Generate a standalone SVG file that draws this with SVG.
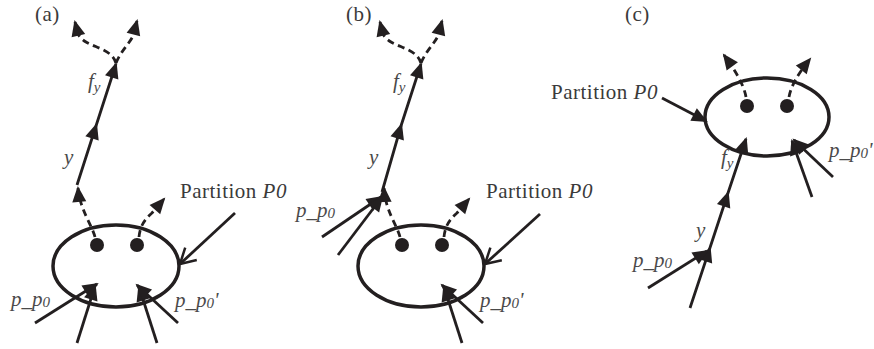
<svg xmlns="http://www.w3.org/2000/svg" width="874" height="349" viewBox="0 0 874 349">
<style>
text{font-family:"Liberation Serif","Times New Roman",serif;fill:#3a3a3a}
.cap{font-size:21px;letter-spacing:0.5px}
.lab{font-size:21px;font-style:italic;fill:#4a4a4a}
.sub{font-size:15px}
.ell{fill:none;stroke:#231f20;stroke-width:3.5}
.dot{fill:#231f20}
.ln{fill:none;stroke:#231f20;stroke-width:2.8}
.ds{fill:none;stroke:#231f20;stroke-width:2.8;stroke-dasharray:7 4.5}
.arr{marker-end:url(#ah)}
.mid{marker-mid:url(#ah);marker-end:url(#ah)}
.open{marker-end:url(#oh)}
</style>
<defs>
<marker id="ah" viewBox="-16 -8 19 16" refX="0" refY="0" markerWidth="19" markerHeight="16" markerUnits="userSpaceOnUse" orient="auto">
<path d="M2,0 L-14,-7 L-14,7 Z" fill="#231f20"/>
</marker>
<marker id="oh" viewBox="-17 -11 20 22" refX="0" refY="0" markerWidth="20" markerHeight="22" markerUnits="userSpaceOnUse" orient="auto">
<path d="M-15,-8.5 L0,0 L-15,8.5" fill="none" stroke="#231f20" stroke-width="2.5"/>
</marker>
</defs>

<!-- Panel (a) -->
<text class="cap" x="35" y="21">(a)</text>
<g id="a-partition">
<ellipse class="ell" cx="116" cy="266" rx="63" ry="41"/>
<circle class="dot" cx="97" cy="245" r="7"/>
<circle class="dot" cx="137" cy="245" r="7"/>
</g>
<g id="a-connectors">
<path class="ln mid" d="M77,185 L96.3,125 L116,64"/>
<path class="ds arr" d="M116,63 C112,50 96,48 86,42 S77,30 75,22"/>
<path class="ds arr" d="M116,63 C121,51 129,44 133,36 L137,21"/>
<path class="ds arr" d="M95,237 C92,225 80,210 78,188"/>
<path class="ds arr" d="M139,237 C140,225 146,218 152,213 L164,199"/>
<path class="ln open" d="M235,213 L180,264"/>
<path class="ln arr" d="M35,323 L97,284"/>
<path class="ln arr" d="M77,343 L95,286"/>
<path class="ln arr" d="M157,343 L139,287"/>
<path class="ln arr" d="M178,323 L137,285"/>
</g>
<g id="a-labels">
<text class="lab" x="88" y="88">f<tspan class="sub" dy="4">y</tspan></text>
<text class="lab" x="64" y="164">y</text>
<text class="cap" x="180" y="198">Partition <tspan font-style="italic">P0</tspan></text>
<text class="lab" x="11" y="306">p_p<tspan class="sub" dy="1">0</tspan></text>
<text class="lab" x="175" y="307">p_p<tspan class="sub" dy="1">0</tspan><tspan dy="-1">'</tspan></text>
</g>

<!-- Panel (b) -->
<text class="cap" x="346" y="21">(b)</text>
<g id="b-partition">
<ellipse class="ell" cx="421" cy="266" rx="63" ry="41"/>
<circle class="dot" cx="402" cy="245" r="7"/>
<circle class="dot" cx="442" cy="245" r="7"/>
</g>
<g id="b-connectors">
<path class="ln mid" d="M382,192 L401.3,125 L421,64"/>
<path class="ds arr" d="M421,63 C417,50 401,48 391,42 S382,30 380,22"/>
<path class="ds arr" d="M421,63 C426,51 434,44 438,36 L442,21"/>
<path class="ds arr" d="M400,237 C397,225 385,210 384,188"/>
<path class="ds arr" d="M444,237 C445,225 451,218 457,213 L469,199"/>
<path class="ln open" d="M540,214 L485,264"/>
<path class="ln arr" d="M322,237 L381,197"/>
<path class="ln arr" d="M338,255 L382,197"/>
<path class="ln arr" d="M462,343 L444,287"/>
<path class="ln arr" d="M483,323 L442,285"/>
</g>
<g id="b-labels">
<text class="lab" x="393" y="88">f<tspan class="sub" dy="4">y</tspan></text>
<text class="lab" x="369" y="164">y</text>
<text class="cap" x="486" y="198">Partition <tspan font-style="italic">P0</tspan></text>
<text class="lab" x="296" y="217">p_p<tspan class="sub" dy="1">0</tspan></text>
<text class="lab" x="480" y="307">p_p<tspan class="sub" dy="1">0</tspan><tspan dy="-1">'</tspan></text>
</g>

<!-- Panel (c) -->
<text class="cap" x="625" y="21">(c)</text>
<g id="c-partition">
<ellipse class="ell" cx="767" cy="117" rx="62" ry="39"/>
<circle class="dot" cx="747" cy="106" r="7"/>
<circle class="dot" cx="787" cy="106" r="7"/>
</g>
<g id="c-connectors">
<path class="ds arr" d="M746,97 C744,85 735,70 724,55"/>
<path class="ds arr" d="M789,97 C791,86 798,74 810,59"/>
<path class="ln arr" d="M662,98 L706,121"/>
<path class="ln mid" d="M690,308 L709.9,248 L728,193 L746,139"/>
<path class="ln arr" d="M648,288 L707,251"/>
<path class="ln arr" d="M812,197 L792,141"/>
<path class="ln arr" d="M833,177 L794,140"/>
</g>
<g id="c-labels">
<text class="cap" x="551" y="99">Partition <tspan font-style="italic">P0</tspan></text>
<text class="lab" x="721" y="164">f<tspan class="sub" dy="4">y</tspan></text>
<text class="lab" x="696" y="237">y</text>
<text class="lab" x="633" y="267">p_p<tspan class="sub" dy="1">0</tspan></text>
<text class="lab" x="829" y="157">p_p<tspan class="sub" dy="1">0</tspan><tspan dy="-1">'</tspan></text>
</g>
</svg>
